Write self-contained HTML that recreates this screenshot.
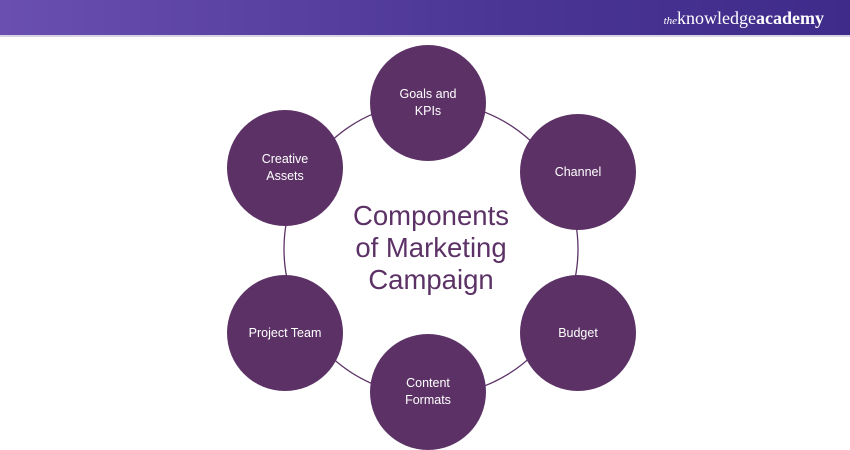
<!DOCTYPE html>
<html><head><style>
body{margin:0;width:850px;height:450px;background:#fff;overflow:hidden;font-family:"Liberation Sans",sans-serif;position:relative}
.hdr{position:absolute;left:0;top:0;width:850px;height:35px;background:linear-gradient(90deg,#6a4fb0,#4a3594 60%,#3f2b8a);border-bottom:2px solid #d8d4e6}
.logo{position:absolute;right:26px;top:8px;color:#fff;font-family:"Liberation Serif",serif;font-size:18px}
.logo i{font-size:11px}
.c{position:absolute;width:116px;height:116px;border-radius:50%;background:#5c3266;color:#fff;display:flex;align-items:center;justify-content:center;text-align:center;font-size:12.5px;line-height:17px}
.t{position:absolute;left:321px;top:200px;width:220px;text-align:center;color:#5c3266;font-size:27.5px;line-height:32px}
</style></head><body>
<div class="hdr"><div class="logo"><i>the</i>knowledge<b>academy</b></div></div>
<svg width="850" height="450" style="position:absolute;left:0;top:0"><circle cx="431" cy="249" r="147" fill="none" stroke="#5c3266" stroke-width="1.3"/></svg>
<div class="c" style="left:370px;top:45px">Goals and<br>KPIs</div>
<div class="c" style="left:520px;top:114px">Channel</div>
<div class="c" style="left:520px;top:275px">Budget</div>
<div class="c" style="left:370px;top:334px">Content<br>Formats</div>
<div class="c" style="left:227px;top:275px">Project Team</div>
<div class="c" style="left:227px;top:110px">Creative<br>Assets</div>
<div class="t">Components<br>of Marketing<br>Campaign</div>
</body></html>
